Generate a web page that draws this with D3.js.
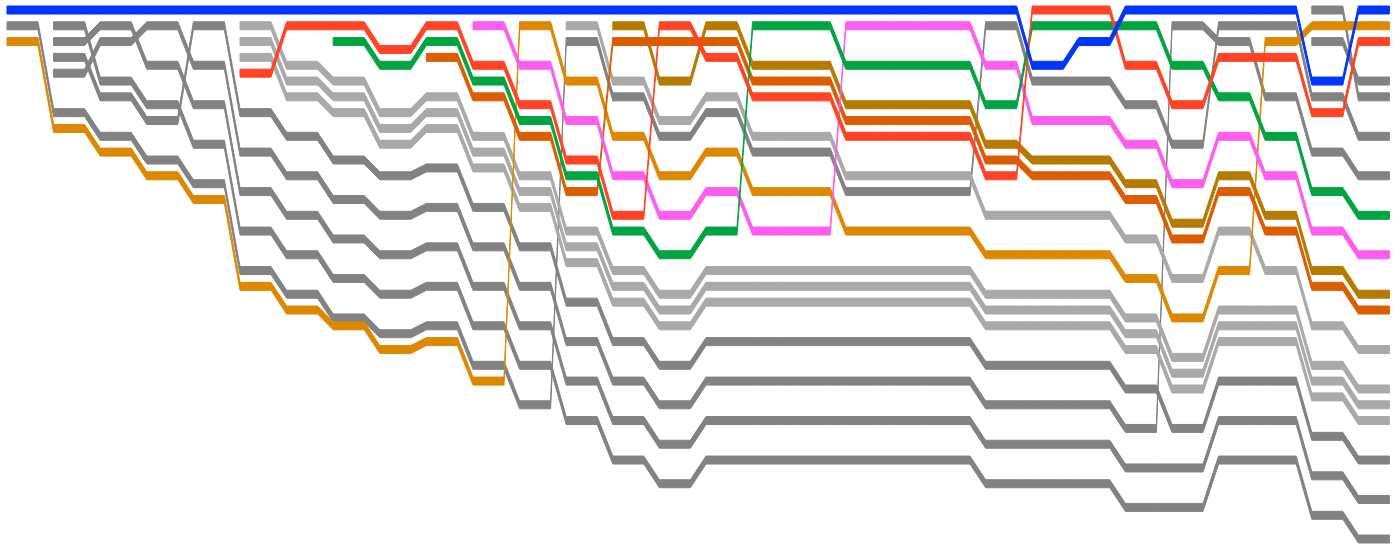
<!DOCTYPE html>
<html>
<head>
<meta charset="utf-8">
<script src="https://cdn.jsdelivr.net/npm/d3@7"></script>
<style>
  html, body { margin: 0; padding: 0; background: #fff; }
</style>
</head>
<body>
<svg id="chart"></svg>
<script>
// rank positions per round (half-rank units), null = not in the race yet
const _ = null;
const rounds = d3.range(30);

const blue   = [0,0,0,0,0,0,0,0,0,0,0,0,0,0,0,0,0,0,0,0,0,0,7,4,0,0,0,0,9,0];
const orange = [4,15,18,21,24,35,38,40,43,42,47,2,9,16,21,18,23,23,28,28,28,31,31,31,34,39,33,4,2,2];
const red    = [_,_,_,_,_,8,2,2,5,2,7,12,19,26,2,6,11,11,16,16,16,21,0,0,7,12,6,6,13,4];
const green  = [_,_,_,_,_,_,_,4,7,4,9,14,21,28,31,28,2,2,7,7,7,12,2,2,2,7,11,16,23,26];
const pink   = [_,_,_,_,_,_,_,_,_,_,2,7,14,21,26,23,28,28,2,2,2,7,14,14,17,22,16,21,28,31];
const rust   = [_,_,_,_,_,_,_,_,_,6,11,16,23,4,4,4,9,9,14,14,14,19,21,21,24,29,23,28,35,38];
const bronze = [_,_,_,_,_,_,_,_,_,_,_,_,_,2,9,2,7,7,12,12,12,17,19,19,22,27,21,26,33,36];

const grayA  = [2,13,16,19,22,33,36,39,41,40,45,50,4,11,16,13,18,18,23,23,23,2,9,9,12,17,2,2,11,16];
const grayD1 = [_,2,9,12,17,28,31,34,36,35,40,45,52,57,60,57,57,57,57,57,57,60,60,60,63,63,57,57,64,67];
const grayD2 = [_,4,2,7,12,23,26,29,31,30,35,40,47,52,55,52,52,52,52,52,52,55,55,55,58,58,52,52,59,62];
const grayD3 = [_,6,11,14,2,13,16,19,21,20,25,30,37,42,45,42,42,42,42,42,42,45,45,45,48,53,47,47,54,57];
const grayD4 = [_,8,4,2,7,18,21,24,26,25,30,35,42,47,50,47,47,47,47,47,47,50,50,50,53,2,4,11,18,21];
const grayN1 = [_,_,_,_,_,_,_,_,_,_,_,_,_,_,_,_,_,_,_,_,_,_,_,_,_,_,_,_,0,11];
const grayN2 = [_,_,_,_,_,_,_,_,_,_,_,_,_,_,_,_,_,_,_,_,_,_,_,_,_,_,_,_,4,9];
const lightA = [_,_,_,_,_,2,7,9,13,11,16,21,28,33,36,33,33,33,33,33,33,36,36,36,39,44,38,38,45,48];
const lightB = [_,_,_,_,_,4,9,11,15,13,18,23,30,35,38,35,35,35,35,35,35,38,38,38,41,46,40,40,47,50];
const lightC = [_,_,_,_,_,6,11,13,17,15,20,25,32,37,40,37,37,37,37,37,37,40,40,40,43,48,42,42,49,52];
const lightX = [_,_,_,_,_,_,_,_,_,_,_,_,2,9,14,11,16,16,21,21,21,26,26,26,29,34,28,33,40,43];

const DARK = '#828282', LIGHT = '#a9a9a9';
const series = [
  { values: grayA,  color: DARK },
  { values: grayD1, color: DARK },
  { values: grayD2, color: DARK },
  { values: grayD3, color: DARK },
  { values: grayD4, color: DARK },
  { values: grayN1, color: DARK },
  { values: grayN2, color: DARK },
  { values: lightA, color: LIGHT },
  { values: lightB, color: LIGHT },
  { values: lightC, color: LIGHT },
  { values: lightX, color: LIGHT },
  { values: orange, color: '#de8700' },
  { values: bronze, color: '#b77a00' },
  { values: rust,   color: '#dc5d00' },
  { values: pink,   color: '#ff5cf0' },
  { values: green,  color: '#00a541' },
  { values: red,    color: '#ff4425' },
  { values: blue,   color: '#0036f7' },
];

const width = 1400;
const height = 548;
const step = 46.6;
const flat = 31;      // flat part of each round
const band = 8;       // vertical thickness of a ribbon

const svg = d3.select('#chart')
  .attr('width', width)
  .attr('height', height);

const x = d3.scaleLinear().domain([0, 30]).range([7, 7 + step * 30]);
const y = d3.scaleLinear().domain([0, 67]).range([10, 539]);

const area = d3.area()
  .defined(d => d.v !== null)
  .x(d => d.x)
  .y0(d => y(d.v) - band / 2)
  .y1(d => y(d.v) + band / 2);

const toPoints = values => {
  const pts = [];
  rounds.forEach(i => {
    const v = values[i];
    pts.push({ x: x(i), v });
    pts.push({ x: x(i) + flat, v });
  });
  return pts;
};

svg.selectAll('path.ribbon')
  .data(series)
  .enter()
  .append('path')
  .attr('class', 'ribbon')
  .attr('d', d => area(toPoints(d.values)))
  .attr('fill', d => d.color)
  .attr('stroke', d => d.color)
  .attr('stroke-width', 1)
  .attr('stroke-linejoin', 'round');
</script>
</body>
</html>
